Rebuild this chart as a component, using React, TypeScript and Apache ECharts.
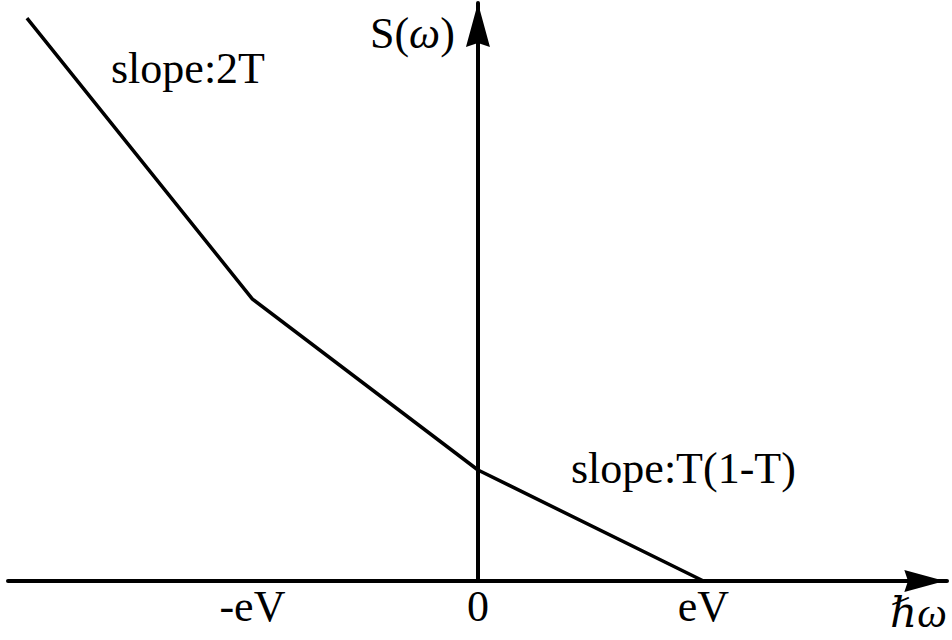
import React, { useEffect, useRef } from "react";
import * as echarts from "echarts";

// Spectral density S(ω) vs ħω: piecewise-linear, kinks at -eV and 0, zero at eV
const xValues = [-2, -1, 0, 1];
const sValues = [5.07, 2.54, 1, 0];

// tick positions (units of eV) and their labels
const tickValues = [-1, 0, 1];
const tickLabels = ["-eV", "0", "eV"];

const slopeLeft = "slope:2T";
const slopeRight = "slope:T(1-T)";

const SERIF = "'Liberation Serif', 'Times New Roman', 'DejaVu Serif', serif";
const FS = 44;
// offset from baseline to the "central" line of the serif face
const mid = (baseline: number, fs: number) => baseline - 0.3375 * fs;

const ARROW = "path://M12,0 L24,44 L12,40 L0,44 Z";

export default function App() {
  const ref = useRef<HTMLDivElement>(null);

  useEffect(() => {
    if (!ref.current) return;
    const chart = echarts.init(ref.current, null, { renderer: "svg" });

    const points = xValues.map((x, i) => [x, sValues[i]]);

    chart.setOption({
      animation: false,
      backgroundColor: "#ffffff",
      grid: {
        left: 8,
        right: 5,
        top: 3,
        bottom: 59,
        outerBoundsMode: "none",
        containLabel: false,
      },
      xAxis: {
        type: "value",
        min: -2.084,
        max: 2.08,
        splitLine: { show: false },
        axisTick: { show: false },
        axisLine: {
          show: true,
          onZero: true,
          lineStyle: { color: "#000", width: 4 },
          symbol: ["none", ARROW],
          symbolSize: [22, 45],
          symbolOffset: [0, -22.5],
        },
        axisLabel: {
          show: true,
          customValues: tickValues,
          margin: 3,
          color: "#000",
          fontFamily: SERIF,
          fontSize: FS,
          formatter: (v: number) => {
            const i = tickValues.indexOf(Math.round(v * 1000) / 1000);
            return i >= 0 ? tickLabels[i] : "";
          },
        },
      },
      yAxis: {
        type: "value",
        min: 0,
        max: 5.207,
        splitLine: { show: false },
        axisTick: { show: false },
        axisLabel: { show: false },
        axisLine: {
          show: true,
          onZero: true,
          lineStyle: { color: "#000", width: 4 },
          symbol: ["none", ARROW],
          symbolSize: [26, 44],
          symbolOffset: [0, -22],
        },
      },
      series: [
        {
          type: "line",
          data: points,
          showSymbol: false,
          symbol: "none",
          lineStyle: { color: "#000", width: 3.5 },
          z: 3,
        },
      ],
      graphic: [
        {
          type: "text",
          x: 111,
          y: mid(83, FS),
          style: {
            text: slopeLeft,
            font: `${FS}px ${SERIF}`,
            fill: "#000",
            align: "left",
            verticalAlign: "middle",
          },
        },
        {
          type: "text",
          x: 571,
          y: mid(483, FS),
          style: {
            text: slopeRight,
            font: `${FS}px ${SERIF}`,
            fill: "#000",
            align: "left",
            verticalAlign: "middle",
          },
        },
        {
          type: "text",
          x: 370,
          y: mid(48, FS),
          style: {
            text: "S({w|ω})",
            font: `${FS}px ${SERIF}`,
            fill: "#000",
            align: "left",
            verticalAlign: "middle",
            rich: {
              w: {
                fontFamily: SERIF,
                fontSize: FS,
                fontStyle: "italic",
                fill: "#000",
              },
            },
          },
        },
        {
          type: "text",
          x: 947,
          y: mid(627, 42),
          style: {
            text: "\u210Fω",
            font: `italic 42px ${SERIF}`,
            fill: "#000",
            align: "right",
            verticalAlign: "middle",
          },
        },
      ],
    });

    return () => chart.dispose();
  }, []);

  return (
    <div
      ref={ref}
      style={{ position: "fixed", left: 0, top: 0, width: 952, height: 640 }}
    />
  );
}
